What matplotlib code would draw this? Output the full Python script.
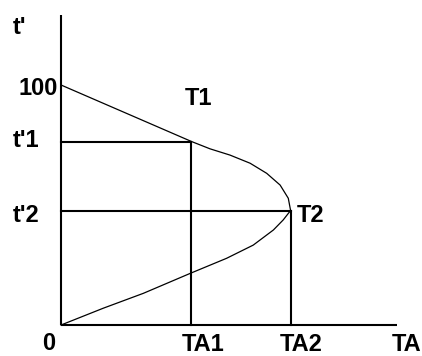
import matplotlib.pyplot as plt

# valores (TA na horizontal, t' na vertical)
ta_curva = [0, 54.5, 62.1, 70.4, 78.8, 85.7, 91.3, 94.7, 95.7,
            95.1, 92.6, 88.5, 80.1, 69.0, 53.8, 34.3, 17.6, 0]
t_curva = [100, 76.4, 73.4, 70.8, 67.4, 63.2, 58.3, 52.8, 47.5,
           47.0, 43.8, 39.6, 33.3, 27.8, 21.5, 13.2, 7.0, 0]

TA1, TA2 = 54.3, 95.7
t1, t2 = 76.3, 47.5
x_max, y_max = 140, 129

plt.rcParams['font.family'] = ['Liberation Sans Narrow', 'Liberation Sans', 'DejaVu Sans']

fig = plt.figure(figsize=(4.22, 3.56), dpi=100)
ax = fig.add_axes([0, 0, 1, 1])
ax.set_xlim(-25.4, 150.4)
ax.set_ylim(-12.9, 135.4)
ax.axis('off')

preto = 'black'
# eixos
ax.plot([0, 0], [0, y_max], color=preto, lw=1.5, solid_capstyle='butt')
ax.plot([0, x_max], [0, 0], color=preto, lw=1.5, solid_capstyle='butt')

# linhas de leitura
ax.plot([0, TA1], [t1, t1], color=preto, lw=1.5)
ax.plot([TA1, TA1], [0, t1], color=preto, lw=1.5)
ax.plot([0, TA2], [t2, t2], color=preto, lw=1.5)
ax.plot([TA2, TA2], [0, t2], color=preto, lw=1.5)

# curva
ax.plot(ta_curva, t_curva, color=preto, lw=0.9)

estilo = dict(fontsize=17, fontweight='bold', color=preto, va='baseline', ha='left')
ax.text(-20, 121.3, "t'", **estilo)
ax.text(-17.9, 95.8, "100", **estilo)
ax.text(-20, t1 - 2.1, "t'1", **estilo)
ax.text(-20, t2 - 4.6, "t'2", **estilo)
ax.text(-7.9, -10.4, "0", **estilo)

# rótulos de baixo: ancorados pela base da caixa para não sair da figura
baixo = dict(estilo, va='bottom')
ax.text(TA1 - 4.0, -12.7, "TA1", **baixo)
ax.text(TA2 - 4.4, -12.7, "TA2", **baixo)
ax.text(137.9, -12.7, "TA", **baixo)

ax.text(51.7, 91.7, "T1", **estilo)
ax.text(TA2 + 2.5, t2 - 4.6, "T2", **estilo)

fig.savefig('out.png', dpi=100)
